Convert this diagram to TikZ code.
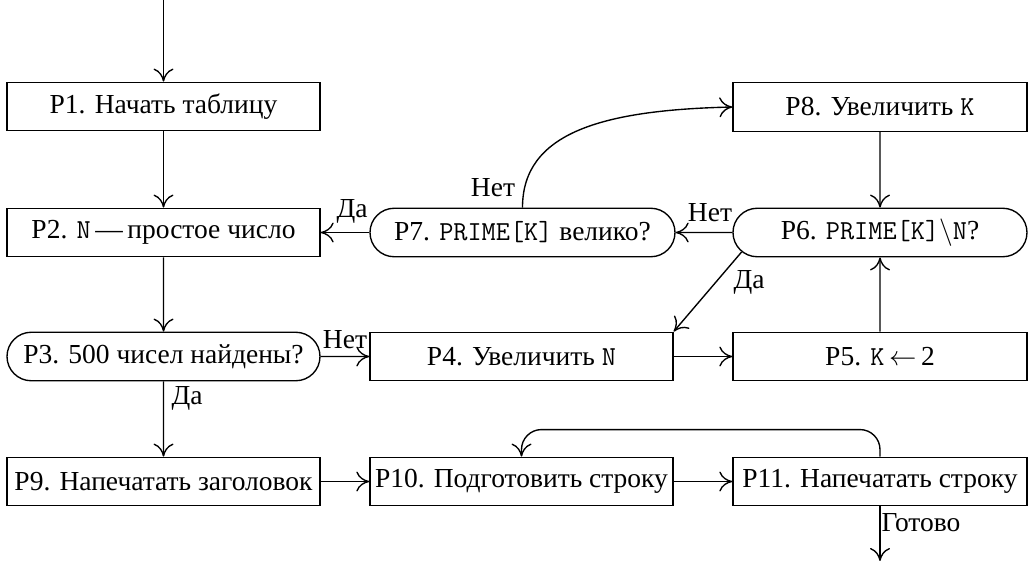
\documentclass[tikz,border=0pt]{standalone}
\usepackage{fontspec}
\setmainfont{Liberation Serif}
\usetikzlibrary{shapes.misc,arrows.meta}
\begin{document}
\begin{tikzpicture}[x=0.4pt,y=-0.4pt,
  line width=0.55pt,
  >={Computer Modern Rightarrow[length=5.2pt,width=8pt]},
  every node/.style={font=\fontsize{11}{13}\selectfont},
  box/.style={draw, line width=0.55pt, minimum height=19.4pt, inner sep=0pt},
  capsule/.style={box, rounded rectangle},
  wa/.style={minimum width=125.2pt},
  wb/.style={minimum width=121.2pt},
  wc/.style={minimum width=117.6pt},
  lbl/.style={inner sep=0pt}]
\useasboundingbox (0,0) rectangle (1029,561);
% nodes
\node[box,wa] (P1) at (163.5,106.5) {P1. Начать таблицу};
\node[box,wa] (P2) at (163.5,232.5) {P2. \texttt{N}\,—\,простое число};
\node[capsule,wa] (P3) at (163.5,356.5) {P3. 500 чисел найдены?};
\node[box,wa] (P9) at (163.5,481.5) {P9. Напечатать заголовок};
\node[capsule,minimum width=122pt] (P7) at (522.5,232.5) {P7. \texttt{PRIME[K]} велико?};
\node[box,wb] (P4) at (521.5,356.5) {P4. Увеличить \texttt{N}};
\node[box,wb] (P10) at (521.5,481.5) {P10. Подготовить строку};
\node[box,wc] (P8) at (880,107) {P8. Увеличить \texttt{K}};
\node[capsule,wc] (P6) at (880,232.5) {P6. \texttt{PRIME[K]}$\backslash$\texttt{N}?};
\node[box,wc] (P5) at (880,356.5) {P5. \texttt{K}\,$\leftarrow$\,2};
\node[box,wc] (P11) at (880,481.5) {P11. Напечатать строку};
\coordinate (top) at (163.5,0);
\coordinate (bot) at (880,561);
% labels
\node[lbl] (l1) at (187,398) {Да};
\node[lbl] (l2) at (345,340) {Нет};
\node[lbl] (l3) at (352,211) {Да};
\node[lbl] (l4) at (710,213) {Нет};
\node[lbl] (l5) at (493,188) {Нет};
\node[lbl] (l6) at (749,282) {Да};
\node[lbl] (l7) at (921,523) {Готово};
% connectors
\draw[->] (top) -- (P1);
\draw[->] (P1) -- (P2);
\draw[->] (P2) -- (P3);
\draw[->] (P3) -- (P9);
\draw[->] (P3) -- (P4);
\draw[->] (P4) -- (P5);
\draw[->] (P5) -- (P6);
\draw[->] (P8) -- (P6);
\draw[->] (P6) -- (P7);
\draw[->] (P7) -- (P2);
\draw[->] (P7.north) .. controls +(0,-75) and +(-130,3) .. (P8.west);
\draw[->] (P6.188) -- (P4.north east);
\draw[->] (P9) -- (P10);
\draw[->] (P10) -- (P11);
\draw[->,rounded corners=8pt] (P11.north) -- ++(0,-27) -| (P10.north);
\draw[->] (P11) -- (bot);
\end{tikzpicture}
\end{document}
